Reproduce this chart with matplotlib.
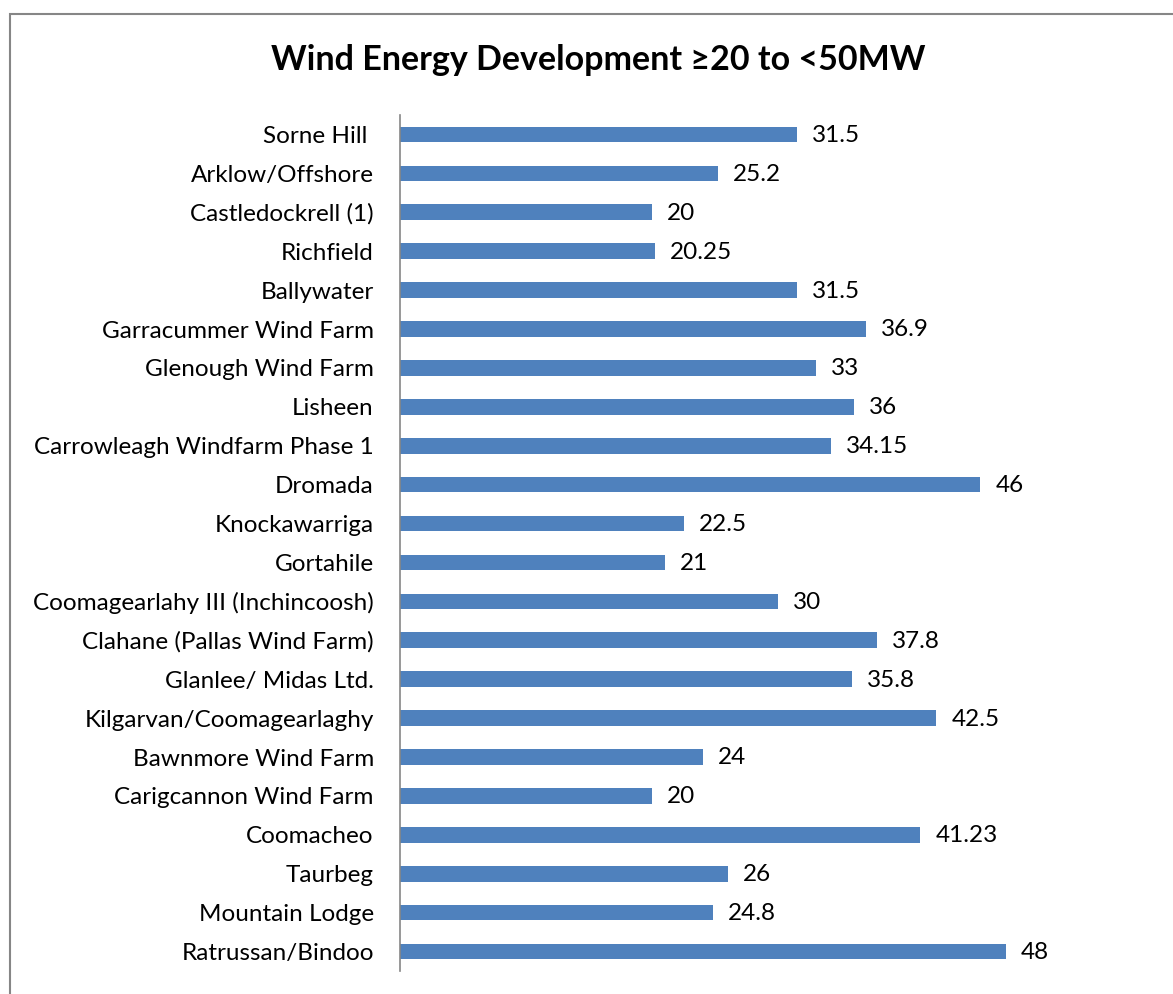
import matplotlib.pyplot as plt
from matplotlib.patches import Rectangle

# wind farm names, top to bottom as in the chart
farms = ['Sorne Hill ', 'Arklow/Offshore', 'Castledockrell (1)', 'Richfield',
         'Ballywater', 'Garracummer Wind Farm', 'Glenough Wind Farm', 'Lisheen',
         'Carrowleagh Windfarm Phase 1', 'Dromada', 'Knockawarriga', 'Gortahile',
         'Coomagearlahy III (Inchincoosh)', 'Clahane (Pallas Wind Farm)',
         'Glanlee/ Midas Ltd.', 'Kilgarvan/Coomagearlaghy', 'Bawnmore Wind Farm',
         'Carigcannon Wind Farm', 'Coomacheo', 'Taurbeg', 'Mountain Lodge',
         'Ratrussan/Bindoo']
mw = [31.5, 25.2, 20, 20.25, 31.5, 36.9, 33, 36, 34.15, 46, 22.5, 21,
      30, 37.8, 35.8, 42.5, 24, 20, 41.23, 26, 24.8, 48]
mw_text = ['31.5', '25.2', '20', '20.25', '31.5', '36.9', '33', '36', '34.15',
           '46', '22.5', '21', '30', '37.8', '35.8', '42.5', '24', '20',
           '41.23', '26', '24.8', '48']

plt.rcParams['font.family'] = ['Lato', 'DejaVu Sans']

W, H = 1173, 994
fig = plt.figure(figsize=[W / 100, H / 100], dpi=100)

# outer chart frame (cut off at right and bottom like the screenshot)
fig.patches.append(Rectangle((10 / W, -0.1), 1.2, (H - 14) / H + 0.1,
                             transform=fig.transFigure, fill=False,
                             edgecolor='#868686', lw=1.5))

px_per_unit = 12.63
xmax = 60
ax = fig.add_axes([399.5 / W, (H - 971) / H, xmax * px_per_unit / W, (971 - 115) / H])

pos = list(range(len(farms)))
ax.barh(pos, mw, height=0.4, color='#4F81BD')
ax.set_ylim(len(farms) - 0.5, -0.5)
ax.set_xlim(0, xmax)

for y, v, t in zip(pos, mw, mw_text):
    ax.annotate(t, (v, y), xytext=(15, -1), textcoords='offset pixels',
                ha='left', va='center', fontsize=17.5)

ax.set_yticks(pos)
ax.set_yticklabels(farms, fontsize=17.5)
ax.yaxis.set_tick_params(length=0, pad=18.5)
ax.set_xticks([])

for s in ['top', 'right', 'bottom']:
    ax.spines[s].set_visible(False)
ax.spines['left'].set_color('#868686')
ax.spines['left'].set_linewidth(1.2)

fig.text(598 / W, 1 - 60 / H, 'Wind Energy Development \u226520 to <50MW',
         ha='center', va='center', fontsize=24.5, fontweight='bold')

plt.savefig('out.png', dpi=100)
